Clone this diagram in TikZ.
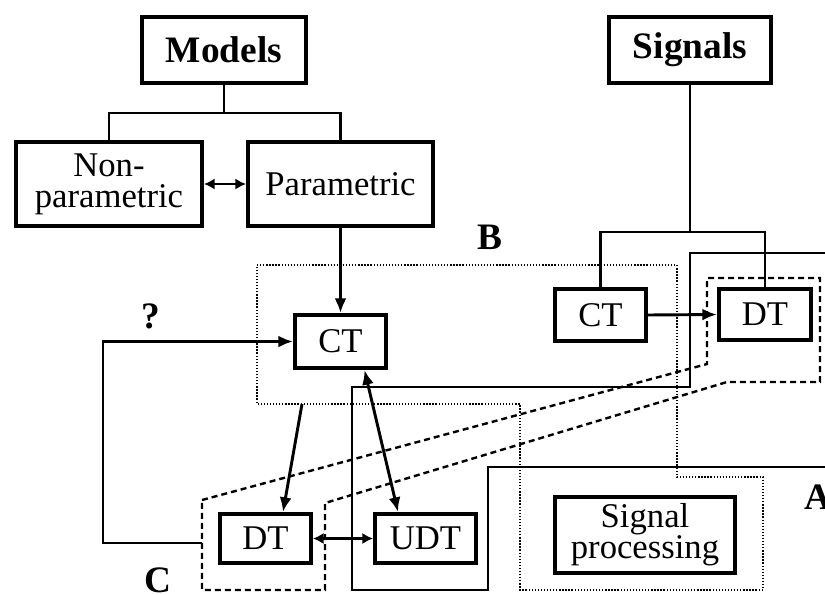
\documentclass[tikz,border=0pt]{standalone}
\usepackage{fontspec}
\setmainfont{Liberation Serif}
\usetikzlibrary{arrows.meta,calc}
\begin{document}
\begin{tikzpicture}[x=0.75pt,y=-0.75pt,
  box/.style={draw,fill=white,line width=3.3pt,inner sep=0pt,align=center,
    font=\fontsize{26}{23.5}\selectfont},
  boxb/.style={box,font=\fontsize{28}{30}\selectfont\bfseries},
  sz/.style 2 args={minimum width={(#1)*0.75pt-3.3pt},minimum height={(#2)*0.75pt-3.3pt}},
  lab/.style={inner sep=0pt,font=\fontsize{28}{30}\selectfont\bfseries},
  conn/.style={line width=2.2pt},
  arr/.style={conn,-{Latex[length=11pt,width=9pt]}},
  dbl/.style={conn,{Latex[length=11pt,width=9pt]}-{Latex[length=11pt,width=9pt]}},
  dblsmall/.style={conn,{Latex[length=8pt,width=8.5pt]}-{Latex[length=8pt,width=8.5pt]}},
  dotreg/.style={line width=1.2pt,dash pattern=on 1pt off 1.3pt},
  thinreg/.style={line width=1.8pt},
  dashreg/.style={line width=1.8pt,dash pattern=on 4.5pt off 3pt}
]
\fill[white] (0,0) rectangle (825,594);
\useasboundingbox (0,0) rectangle (825,594);

% regions
\draw[dotreg] (257,265) -- (677,265) -- (677,477) -- (763,477) -- (763,590) -- (520,590) -- (520,404) -- (257,404) -- cycle;
\draw[thinreg] (826,253) -- (690,253) -- (690,387) -- (352,387) -- (352,590) -- (488,590) -- (488,467) -- (826,467);
\draw[dashreg] (202,500) -- (707,364) -- (707,278) -- (820,278) -- (820,382) -- (727,382) -- (325,503) -- (325,590) -- (202,590) -- cycle;

% boxes
\node[boxb,sz={168}{70}] (models) at (224,50) {Models};
\node[boxb,sz={166}{70}] (signals) at (690,50) {Signals};
\node[box,sz={190}{88}] (nonpar) at (109,184) {Non-\\parametric};
\node[box,sz={189}{88}] (par) at (340.5,184) {Parametric};
\node[box,sz={95}{57}] (ct1) at (340.5,341.5) {CT};
\node[box,sz={95}{56}] (ct2) at (600.5,315) {CT};
\node[box,sz={96}{55}] (dt2) at (765,314.5) {DT};
\node[box,sz={95}{53}] (dt1) at (265.5,538.5) {DT};
\node[box,sz={105}{53}] (udt) at (425.5,538.5) {UDT};
\node[box,sz={184}{80}] (sp) at (645,535) {Signal\\processing};

% labels
\node[lab] (lB) at (490,237) {B};
\node[lab] (lq) at (151,316) {?};
\node[lab] (lC) at (158,580) {C};
\node[lab] (lA) at (818,497) {A};

% connectors
\coordinate (mbar) at (224,113);
\draw[conn] (models.south) -- (mbar);
\draw[conn] (nonpar.north) |- (mbar) -| (par.north);
\draw[dblsmall] (nonpar.east) -- (par.west);
\draw[arr] (par.south) -- (ct1.north);

\coordinate (sbar) at (690,232);
\draw[conn] (signals.south) -- (sbar);
\draw[conn] (ct2.north) |- (sbar) -| (dt2.north);
\draw[arr] (ct2.east) -- (dt2.west);

\coordinate (cfb) at (202,543);
\draw[arr] (cfb) -- ++(-99,0) |- (ct1.west);

\coordinate (bout) at (302,404);
\draw[arr] (bout) -- ($(dt1.north)+(17.5,0)$);
\draw[dbl] ($(ct1.south)+(24,0)$) -- ($(udt.north)+(-27.5,0)$);
\draw[dblsmall] (dt1.east) -- (udt.west);
\end{tikzpicture}
\end{document}
